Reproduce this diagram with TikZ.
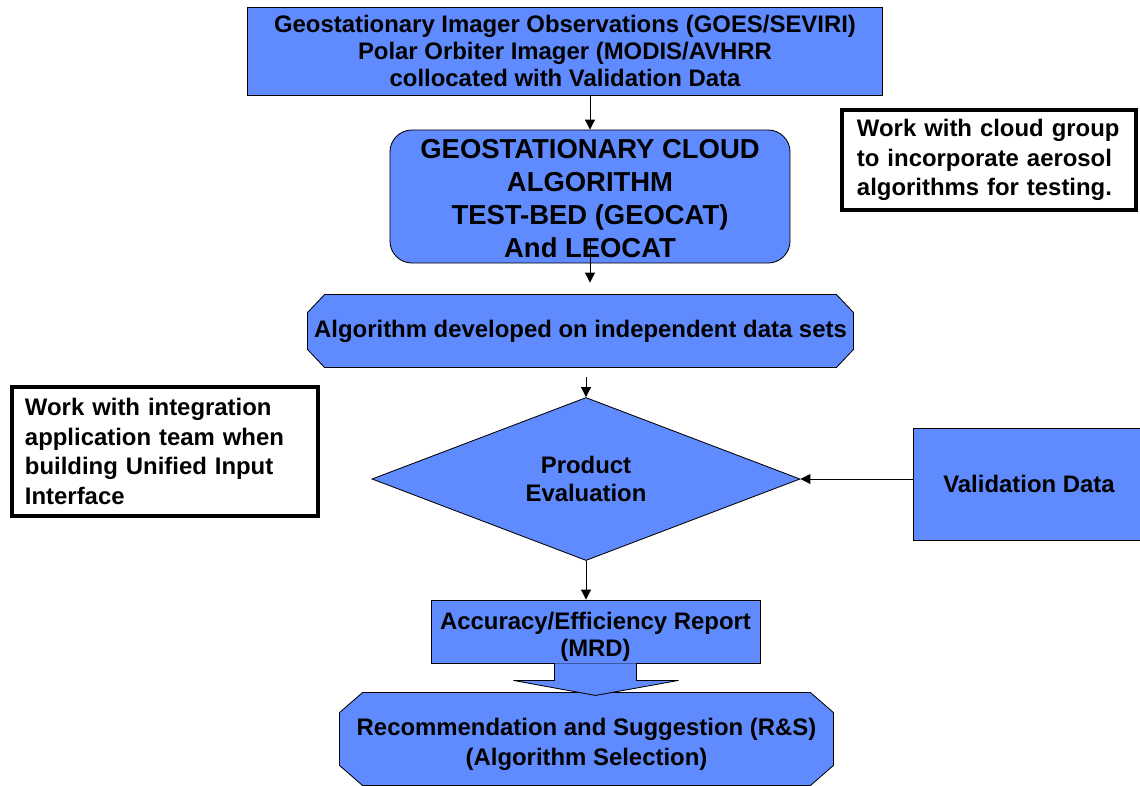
\documentclass[tikz,border=0pt]{standalone}
\usepackage{fontspec}
\setmainfont{Liberation Sans}
\usetikzlibrary{shapes.geometric, arrows.meta, positioning, calc, backgrounds}

\definecolor{boxblue}{RGB}{95,139,255}

\tikzset{
  base/.style={draw=black, line width=0.6pt, fill=boxblue, align=center, inner sep=0pt,
    font=\bfseries\fontsize{17}{19.5}\selectfont},
  plainbox/.style={base, rectangle},
  roundbox/.style={base, rectangle, rounded corners=0.55cm},
  octbox/.style={base, rectangle, draw=none, fill=none},
  decision/.style={base, diamond, aspect=2.6},
  notebox/.style={draw=black, line width=3pt, fill=white, align=left, inner ysep=0pt,
    font=\bfseries\fontsize{17}{21}\selectfont},
  arr/.style={-{Triangle[length=7pt,width=7pt]}, line width=0.6pt},
}

% cut-corner outline behind a node: name, cut x, cut y
\newcommand{\octpath}[3]{%
  \begin{scope}[on background layer]
    \filldraw[fill=boxblue, draw=black, line width=0.6pt]
      ($(#1.north west)+(#2,0)$) -- ($(#1.north east)+(-#2,0)$)
      -- ($(#1.north east)+(0,#3)$) -- ($(#1.south east)+(0,-#3)$)
      -- ($(#1.south east)+(-#2,0)$) -- ($(#1.south west)+(#2,0)$)
      -- ($(#1.south west)+(0,-#3)$) -- ($(#1.north west)+(0,#3)$) -- cycle;
  \end{scope}}

\begin{document}
\begin{tikzpicture}[x=0.025cm, y=-0.025cm]
\useasboundingbox (0,0) rectangle (1140,785);

% main flow
\node[plainbox, minimum width=15.85cm, minimum height=2.2cm] (obs) at (565,51)
  {Geostationary Imager Observations (GOES/SEVIRI)\\Polar Orbiter Imager (MODIS/AVHRR\\collocated with Validation Data};
\node[roundbox, font=\bfseries\fontsize{19.5}{23.5}\selectfont, minimum width=10cm, minimum height=3.325cm] (geocat) at (590,196.5)
  {\rule{0pt}{17pt}GEOSTATIONARY CLOUD\\ALGORITHM\\TEST-BED (GEOCAT)\\And LEOCAT};
\node[octbox, minimum width=13.625cm, minimum height=1.8cm] (algo) at (580.5,331)
  {Algorithm developed on independent data sets};
\octpath{algo}{17}{18}
\node[decision, minimum width=10.7cm, minimum height=4.075cm] (eval) at (586,479)
  {Product\\Evaluation};
\node[plainbox, minimum width=5.8cm, minimum height=2.8cm] (valid) at (1029,484)
  {Validation Data};
\node[plainbox, minimum width=8.225cm, minimum height=1.575cm] (report) at (595.5,631.5)
  {\rule{0pt}{19.5pt}Accuracy/Efficiency Report\\(MRD)};
\node[octbox, font=\bfseries\fontsize{17}{21.5}\selectfont, minimum width=12.325cm, minimum height=2.3cm] (rec) at (586.5,739)
  {\rule{0pt}{19.5pt}Recommendation and Suggestion (R\&S)\\(Algorithm Selection)};
\octpath{rec}{23}{20}

% side notes
\node[notebox, text width=6.6cm, inner xsep=0.375cm, minimum height=2.5cm] (cloudnote) at (989,160)
  {Work with cloud group\\to incorporate aerosol\\algorithms for testing.};
\node[notebox, text width=7cm, inner xsep=0.325cm, minimum height=3.225cm] (intnote) at (165,451.5)
  {Work with integration\\application team when\\building Unified Input\\Interface};

% connectors
\draw[arr] (obs.south -| geocat.north) -- (geocat.north);
\draw[arr] ($(geocat.south)+(0,-23)$) -- ($(geocat.south |- algo.north)+(0,-12)$);
\draw[arr, shorten <=0.25cm] (algo.south -| eval.north) -- (eval.north);
\draw[arr] (eval.east -| valid.west) -- (eval.east);
\draw[arr] (eval.south) -- (eval.south |- report.north);

% block arrow down to the recommendation
\filldraw[fill=boxblue, draw=black, line width=0.6pt]
  ($(report.south)+(-41,0)$) -- ++(0,17) -- ++(-41,0) -- ($(report.south)+(0,32)$)
  -- ($(report.south)+(83,17)$) -- ++(-42,0) -- ($(report.south)+(41,0)$);
\end{tikzpicture}
\end{document}
